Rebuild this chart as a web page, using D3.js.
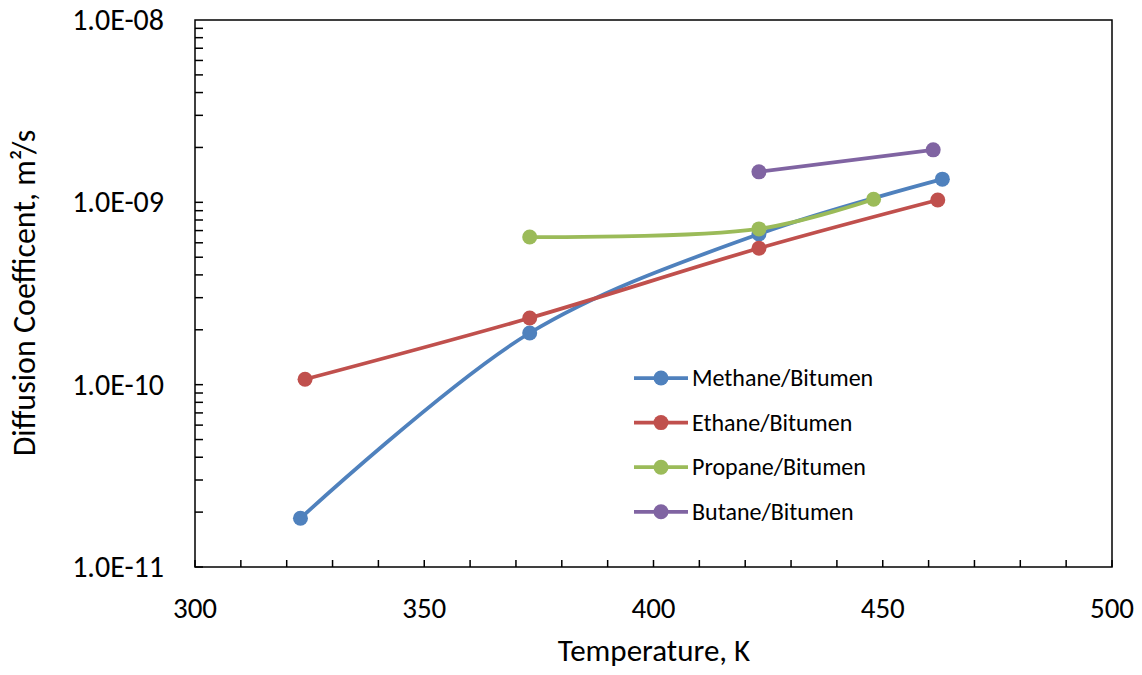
<!DOCTYPE html>
<html><head><meta charset="utf-8">
<script src="https://cdn.jsdelivr.net/npm/d3@7/dist/d3.min.js"></script>
<style>
html,body{margin:0;padding:0;background:#fff;}
svg{display:block;font-family:Carlito,Calibri,Lato,"Open Sans",sans-serif;}
</style></head>
<body>
<svg id="chart" width="1142" height="675"></svg>
<script>
const seriesNames = ["Methane/Bitumen","Ethane/Bitumen","Propane/Bitumen","Butane/Bitumen"];
const seriesColors = ["#4F81BD","#C0504D","#9BBB59","#8064A2"];
const methaneT = [323, 373, 423, 463];
const methaneD = [1.85e-11, 1.92e-10, 6.7e-10, 1.34e-9];
const ethaneT = [324, 373, 423, 462];
const ethaneD = [1.07e-10, 2.32e-10, 5.6e-10, 1.03e-9];
const propaneT = [373, 423, 448];
const propaneD = [6.45e-10, 7.15e-10, 1.04e-9];
const butaneT = [423, 461];
const butaneD = [1.47e-9, 1.94e-9];
const xTicks = [300, 350, 400, 450, 500];
const yTicks = [1e-11, 1e-10, 1e-9, 1e-8];
const yTickLabels = ["1.0E-11","1.0E-10","1.0E-09","1.0E-08"];
const xTitle = "Temperature, K";
const yTitle = "Diffusion Coefficent, m\u00B2/s";

const seriesT = [methaneT, ethaneT, propaneT, butaneT];
const seriesD = [methaneD, ethaneD, propaneD, butaneD];

const svg = d3.select("#chart");
const L = 195, R = 1112, T = 20, B = 567;
const x = d3.scaleLinear().domain([300, 500]).range([L, R]);
const y = d3.scaleLog().domain([1e-11, 1e-8]).range([B, T]);

const minorX = d3.range(300, 501, 10);
const minorY = [];
for (let e = -11; e < -8; e++) for (let m = 1; m <= 9; m++) minorY.push(m * Math.pow(10, e));

const g = svg.append("g");
g.append("rect").attr("x", L).attr("y", T).attr("width", R - L).attr("height", B - T)
  .attr("fill", "none").attr("stroke", "#000").attr("stroke-width", 1.5);

g.selectAll(".xt").data(minorX).enter().append("line")
  .attr("x1", d => x(d)).attr("x2", d => x(d)).attr("y1", B).attr("y2", B - 7)
  .attr("stroke", "#000").attr("stroke-width", 1.5);
g.selectAll(".yt").data(minorY).enter().append("line")
  .attr("x1", L).attr("x2", L + 8).attr("y1", d => y(d)).attr("y2", d => y(d))
  .attr("stroke", "#000").attr("stroke-width", 1.5);

g.selectAll(".xl").data(xTicks).enter().append("text")
  .attr("x", d => x(d)).attr("y", B + 51).attr("text-anchor", "middle")
  .attr("font-size", 29).attr("fill", "#000").text(d => d);
g.selectAll(".yl").data(yTicks).enter().append("text")
  .attr("x", 164).attr("y", d => y(d) + 10).attr("text-anchor", "end")
  .attr("font-size", 30).attr("fill", "#000").text((d, i) => yTickLabels[i]);

svg.append("text").attr("x", 654).attr("y", 661).attr("text-anchor", "middle")
  .attr("font-size", 31).text(xTitle);
svg.append("text").attr("transform", `translate(35,293) rotate(-90)`)
  .attr("text-anchor", "middle").attr("font-size", 32).text(yTitle);

const line = d3.line().x(d => x(d[0])).y(d => y(d[1])).curve(d3.curveCatmullRom.alpha(0.5));
seriesNames.forEach((name, i) => {
  const pts = seriesT[i].map((t, j) => [t, seriesD[i][j]]);
  const sg = svg.append("g");
  sg.append("path").datum(pts).attr("d", line).attr("fill", "none")
    .attr("stroke", seriesColors[i]).attr("stroke-width", 3.75).attr("stroke-linecap", "round");
  sg.selectAll("circle").data(pts).enter().append("circle")
    .attr("cx", d => x(d[0])).attr("cy", d => y(d[1])).attr("r", 7.5)
    .attr("fill", seriesColors[i]);
});

const lg = svg.append("g").attr("transform", "translate(634,378)");
seriesNames.forEach((name, i) => {
  const row = lg.append("g").attr("transform", `translate(0,${i * 44.6})`);
  row.append("line").attr("x1", 0).attr("x2", 54).attr("y1", 0).attr("y2", 0)
    .attr("stroke", seriesColors[i]).attr("stroke-width", 3.75);
  row.append("circle").attr("cx", 27).attr("cy", 0).attr("r", 7.5).attr("fill", seriesColors[i]);
  row.append("text").attr("x", 58).attr("y", 8).attr("font-size", 24).text(name);
});
</script>
</body></html>
